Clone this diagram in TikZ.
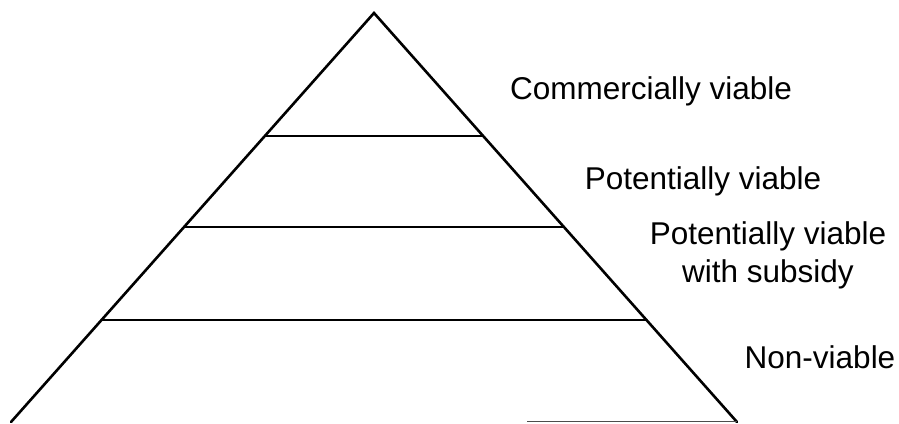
\documentclass[tikz,border=0pt]{standalone}
\usepackage{fontspec}
\setmainfont{Liberation Sans}
\usetikzlibrary{calc}
\begin{document}
\begin{tikzpicture}[x=1pt,y=-1pt,
  edge/.style={line width=2.6pt,line join=miter,line cap=round},
  tier/.style={line width=2.3pt},
  lbl/.style={anchor=base,inner sep=0pt,align=center,font=\fontsize{31.5}{38}\selectfont}]
\useasboundingbox (0,0) rectangle (899,423);
\coordinate (apex) at (374,13);
\coordinate (bl) at (11,422);
\coordinate (br) at (737,422);
\draw[edge] (bl) -- (apex) -- (br);
\coordinate (l1) at ($(apex)!0.3007!(bl)$);
\coordinate (r1) at ($(apex)!0.3007!(br)$);
\coordinate (l2) at ($(apex)!0.523!(bl)$);
\coordinate (r2) at ($(apex)!0.523!(br)$);
\coordinate (l3) at ($(apex)!0.7506!(bl)$);
\coordinate (r3) at ($(apex)!0.7506!(br)$);
\draw[tier] (l1) -- (r1);
\draw[tier] (l2) -- (r2);
\draw[tier] (l3) -- (r3);
\coordinate (b0) at (527,421.5);
\coordinate (b1) at (737,421.5);
\draw[line width=1.5pt,black!70] (b0) -- (b1);
\node[lbl] (t1) at (651,99) {Commercially viable};
\node[lbl] (t2) at (703,189) {Potentially viable};
\node[lbl] (t3) at (768,282) {Potentially viable\\with subsidy};
\node[lbl] (t4) at (820,368) {Non-viable};
\end{tikzpicture}
\end{document}
